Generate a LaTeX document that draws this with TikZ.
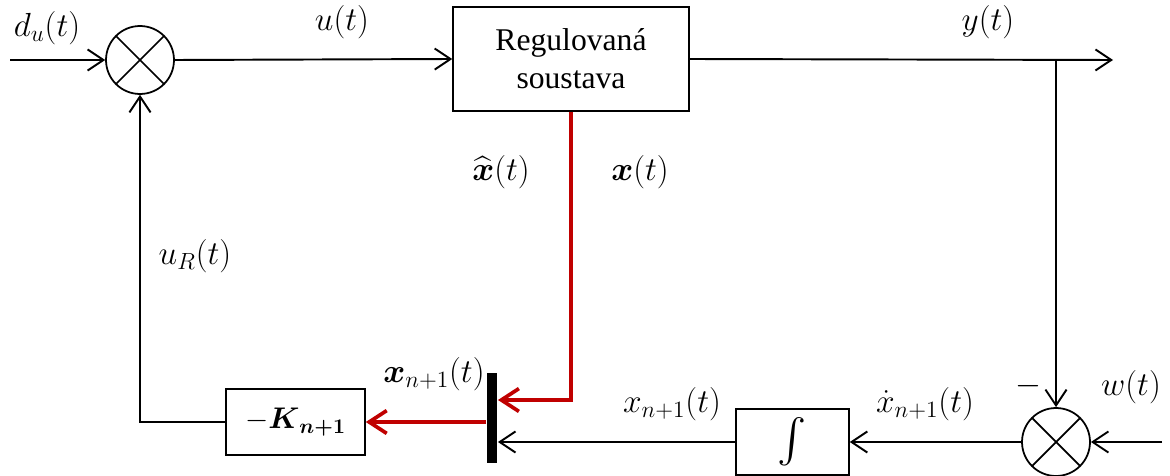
\RequirePackage{fix-cm}
\documentclass[tikz,border=0pt]{standalone}
\usepackage{amsmath}
\usepackage{fontspec}
\usetikzlibrary{arrows.meta}
\newfontfamily\tnr{Liberation Serif}
\definecolor{dred}{RGB}{192,0,0}
\begin{document}
\begin{tikzpicture}[x=0.02cm,y=-0.02cm,
  line width=1.1pt,
  arr/.style={-{Straight Barb[length=9pt,width=12pt,line width=1.1pt]}},
  redarr/.style={draw=dred,line width=2.1pt,-{Straight Barb[length=10pt,width=13pt,line width=2.1pt]}},
  blk/.style={draw,line width=0.9pt,inner sep=0pt},
  sumnode/.style={draw,circle,minimum size=1.36cm,inner sep=0pt,line width=1pt,
    path picture={\draw[line width=1pt] (path picture bounding box.north west)--(path picture bounding box.south east)
      (path picture bounding box.north east)--(path picture bounding box.south west);}},
  lbl/.style={font=\fontsize{19}{22}\selectfont,inner sep=0pt}
]
\useasboundingbox (0,0) rectangle (1170,476);

% blocks
\node[sumnode] (s1) at (140,60) {};
\node[blk,minimum width=4.72cm,minimum height=2.08cm,align=center,
      font=\tnr\fontsize{18}{21.5}\selectfont] (plant) at (571,59) {Regulovaná\\soustava};
\node[blk,minimum width=2.78cm,minimum height=1.32cm,font=\fontsize{17}{20}\selectfont] (K) at (295.5,422) {$-\boldsymbol{K}_{\boldsymbol{n+1}}$};
\node[blk,minimum width=2.26cm,minimum height=1.32cm,font=\fontsize{24}{28}\selectfont] (int) at (792.5,442) {$\int$};
\node[sumnode] (s2) at (1056,442) {};
\node[fill,minimum width=0.2cm,minimum height=1.8cm,inner sep=0pt] (bar) at (492,418) {};

% free ends
\coordinate (in1) at (10,60);
\coordinate (out) at (1113,60);
\coordinate (br) at (1056,60);
\coordinate (win) at (1162,442);
\coordinate (rc) at (571,400);

% connectors
\draw[arr] (in1) -- (s1.west);
\draw[arr] (s1.east) -- (plant.west);
\draw[arr] (plant.east) -- (out);
\draw[arr] (br) -- (s2.north);
\draw[arr] (win) -- (s2.east);
\draw[arr] (s2.west) -- (int.east);
\draw[arr] (int.west) -- (bar.east |- int.west);
\draw[redarr] (plant.south) -- (rc) -- (bar.east |- rc);
\draw[redarr] (bar.west |- K.east) -- (K.east);
\draw[arr] (K.west) -| (s1.south);

% labels
\node[lbl] (ldu) at (47,28) {$d_u(t)$};
\node[lbl] (lu) at (342,22) {$u(t)$};
\node[lbl] (ly) at (988,22) {$y(t)$};
\node[lbl] (lxh) at (501,172) {$\widehat{\boldsymbol{x}}(t)$};
\node[lbl] (lx) at (640,172) {$\boldsymbol{x}(t)$};
\node[lbl] (luR) at (195,256) {$u_R(t)$};
\node[lbl] (lxn) at (434,374) {$\boldsymbol{x}_{n+1}(t)$};
\node[lbl] (lxn2) at (672,404) {$x_{n+1}(t)$};
\node[lbl] (lxd) at (925,404) {$\dot{x}_{n+1}(t)$};
\node[lbl] (lm) at (1028,386) {$-$};
\node[lbl] (lw) at (1131,387) {$w(t)$};
\end{tikzpicture}
\end{document}
